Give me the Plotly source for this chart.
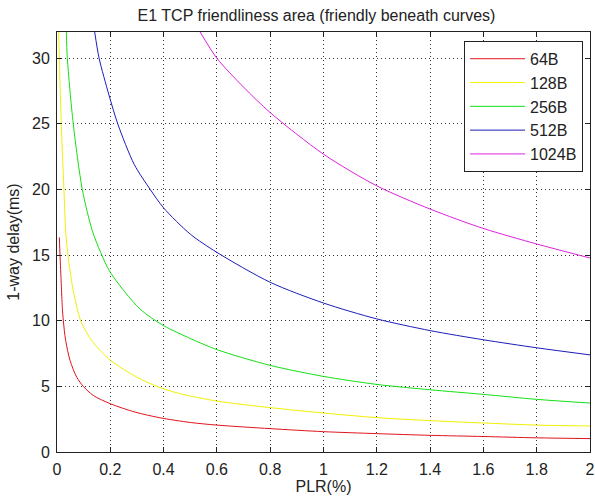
import plotly.graph_objects as go

# 64B
x_64 = [0.0088, 0.0113, 0.016, 0.020, 0.0238, 0.0325, 0.049, 0.074, 0.0988, 0.136, 0.2, 0.293, 0.386, 0.5, 0.6, 0.8, 1.0, 1.2, 1.4, 1.6, 1.8, 2.0]
y_64 = [16.35, 15.0, 12.8, 11.0, 10.0, 8.5, 6.97, 5.7, 5.0, 4.31, 3.68, 3.04, 2.61, 2.25, 2.05, 1.78, 1.55, 1.40, 1.27, 1.18, 1.08, 1.02]
# 128B
x_128 = [0.0064, 0.0088, 0.016, 0.026, 0.0325, 0.041, 0.061, 0.089, 0.13, 0.2, 0.3, 0.375, 0.46, 0.6, 0.8, 1.0, 1.2, 1.4, 1.6, 1.8, 2.0]
y_128 = [32.0, 30.0, 25.0, 20.0, 16.86, 15.0, 12.3, 10.0, 8.5, 7.0, 5.7, 5.0, 4.45, 3.88, 3.38, 2.97, 2.62, 2.39, 2.21, 2.05, 1.98]
# 256B
x_256 = [0.035, 0.0388, 0.061, 0.095, 0.1325, 0.164, 0.2, 0.311, 0.4, 0.5, 0.6, 0.8, 1.0, 1.2, 1.4, 1.6, 1.8, 2.0]
y_256 = [32.0, 30.0, 25.0, 20.0, 16.86, 15.2, 13.69, 10.9, 9.63, 8.65, 7.8, 6.6, 5.76, 5.15, 4.74, 4.39, 4.01, 3.73]
# 512B
x_512 = [0.1414, 0.158, 0.195, 0.228, 0.29, 0.35, 0.4, 0.5, 0.6, 0.8, 1.0, 1.2, 1.4, 1.6, 1.8, 2.0]
y_512 = [32.0, 30.0, 27.2, 25.0, 21.9, 20.0, 18.6, 16.6, 15.21, 12.93, 11.35, 10.14, 9.25, 8.55, 7.94, 7.4]
# 1024B
x_1024 = [0.537, 0.6, 0.7, 0.8, 1.0, 1.2, 1.4, 1.6, 1.8, 2.0]
y_1024 = [32.0, 30.0, 27.8, 25.86, 22.69, 20.28, 18.51, 17.03, 15.85, 14.78]

series_names = ["64B", "128B", "256B", "512B", "1024B"]
series_x = [x_64, x_128, x_256, x_512, x_1024]
series_y = [y_64, y_128, y_256, y_512, y_1024]
colors = ["#e0141e", "#f2f000", "#14e014", "#1c1cb8", "#e020e0"]

x_ticks = [0, 0.2, 0.4, 0.6, 0.8, 1, 1.2, 1.4, 1.6, 1.8, 2]
x_tick_labels = ["0", "0.2", "0.4", "0.6", "0.8", "1", "1.2", "1.4", "1.6", "1.8", "2"]
y_ticks = [0, 5, 10, 15, 20, 25, 30]

fig = go.Figure()
for name, xs, ys, c in zip(series_names, series_x, series_y, colors):
    fig.add_trace(go.Scatter(x=xs, y=ys, mode="lines", name=name,
                             line=dict(color=c, width=1, shape="spline", smoothing=0.8)))

font_family = "Liberation Sans, Arial, sans-serif"
axis_common = dict(showline=True, linecolor="#222222", linewidth=1, mirror="ticks",
                   ticks="inside", ticklen=5, tickcolor="#222222",
                   showgrid=True, gridcolor="#333333", griddash="1px,3px", gridwidth=1,
                   zeroline=False, automargin=False,
                   tickfont=dict(size=16, color="#222222", family=font_family))

fig.update_layout(
    width=595, height=503,
    margin=dict(l=57, r=5, t=32, b=51),
    paper_bgcolor="white", plot_bgcolor="white",
    font=dict(family=font_family, size=16, color="#222222"),
    title=dict(text="E1 TCP friendliness area (friendly beneath curves)",
               x=316.5 / 595, xanchor="center", y=1 - 15 / 503, yanchor="middle",
               font=dict(size=16, color="#222222")),
    xaxis=dict(range=[0, 2], tickvals=x_ticks, ticktext=x_tick_labels, ticklabelstandoff=3,
               title=dict(text="PLR(%)", standoff=2, font=dict(size=16)), **axis_common),
    yaxis=dict(range=[0, 32], tickvals=y_ticks, ticklabelstandoff=3,
               title=dict(text="1-way delay(ms)", standoff=8, font=dict(size=16)), **axis_common),
    legend=dict(x=0.987, y=0.979, xanchor="right", yanchor="top",
                bgcolor="white", bordercolor="#222222", borderwidth=1, itemwidth=55,
                font=dict(size=16, color="#222222"), tracegroupgap=0),
    showlegend=True,
)

fig.write_html("out.html", config={"displayModeBar": False},
               post_script="document.body.style.margin='0';document.body.style.padding='0';")
